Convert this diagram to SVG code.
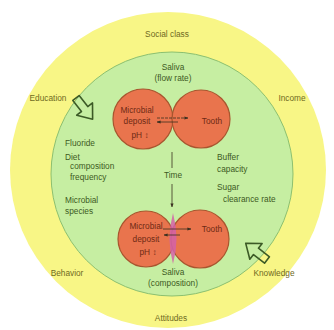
<svg xmlns="http://www.w3.org/2000/svg" width="334" height="330" viewBox="0 0 334 330">
<defs>
<style>
.t{font-family:"Liberation Sans",Arial,sans-serif;font-size:8.3px;text-anchor:middle}
.y{fill:#6f6a22}
.g{fill:#3d5a22}
.r{fill:#6e2a14}
.l{text-anchor:start}
.cell{fill:#E9744D;stroke:#A8552E;stroke-width:1.2}
.ln{stroke:#3a3020;stroke-width:0.8;fill:none}
.blk{fill:none;stroke:#3c5a26;stroke-width:1.6;stroke-linejoin:round}
</style>
<marker id="ah" viewBox="0 0 10 10" refX="9" refY="5" markerWidth="5" markerHeight="5" orient="auto">
<path d="M0,1 L10,5 L0,9 z" fill="#3a3020"/>
</marker>
<path id="blk" d="M0,-4 L14,-4 L14,-10 L27,0 L14,10 L14,4 L0,4 Z"/>
</defs>
<rect width="334" height="330" fill="#ffffff"/>
<g id="outer">
<circle cx="168" cy="170" r="158" fill="#F8F686"/>
<text class="t y" x="167" y="37">Social class</text>
<text class="t y" x="48" y="101">Education</text>
<text class="t y" x="292" y="101">Income</text>
<text class="t y" x="67" y="276">Behavior</text>
<text class="t y" x="274" y="276">Knowledge</text>
<text class="t y" x="171" y="321">Attitudes</text>
</g>
<g id="inner">
<ellipse cx="172" cy="174" rx="121" ry="122" fill="#C6EEA2" stroke="#8cc070" stroke-width="1"/>
<text class="t g" x="173" y="70">Saliva</text>
<text class="t g" x="173" y="81">(flow rate)</text>
<text class="t g l" x="65" y="146">Fluoride</text>
<text class="t g l" x="65" y="160">Diet</text>
<text class="t g l" x="70" y="169">composition</text>
<text class="t g l" x="70" y="180">frequency</text>
<text class="t g l" x="65" y="203">Microbial</text>
<text class="t g l" x="65" y="214">species</text>
<text class="t g l" x="217" y="160">Buffer</text>
<text class="t g l" x="217" y="172">capacity</text>
<text class="t g l" x="217" y="190">Sugar</text>
<text class="t g l" x="223" y="202">clearance rate</text>
<text class="t g" x="173" y="178">Time</text>
<text class="t g" x="173" y="275">Saliva</text>
<text class="t g" x="173" y="286">(composition)</text>
</g>
<g id="top-deposit">
<circle class="cell" cx="143" cy="119" r="30"/>
<text class="t r" x="137" y="113">Microbial</text>
<text class="t r" x="137" y="124">deposit</text>
<text class="t r" x="140" y="138">pH ↕</text>
</g>
<g id="top-tooth">
<circle class="cell" cx="201" cy="119" r="29"/>
<text class="t r" x="212" y="124">Tooth</text>
</g>
<g id="bottom-deposit">
<circle class="cell" cx="146" cy="239" r="28"/>
</g>
<g id="bottom-tooth">
<circle class="cell" cx="200" cy="239" r="29"/>
<path d="M173,213 Q180,239 173,264 Q166,239 173,213 Z" fill="#D462A8" opacity="0.85"/>
<text class="t r" x="146" y="229">Microbial</text>
<text class="t r" x="146" y="242">deposit</text>
<text class="t r" x="148" y="255">pH ↕</text>
<text class="t r" x="212" y="232">Tooth</text>
</g>
<g id="arrow-education"><use href="#blk" class="blk" transform="translate(76,98) rotate(52)"/></g>
<g id="arrow-knowledge"><use href="#blk" class="blk" transform="translate(267,260) rotate(-142)"/></g>
<g id="connectors">
<line class="ln" x1="157" y1="118" x2="188" y2="118" marker-end="url(#ah)" stroke-dasharray="3,1"/>
<line class="ln" x1="178" y1="122" x2="157" y2="122" marker-end="url(#ah)"/>
<line class="ln" x1="172" y1="152" x2="172" y2="168"/>
<line class="ln" x1="172" y1="184" x2="172" y2="207" marker-end="url(#ah)"/>
<line class="ln" x1="163" y1="229" x2="191" y2="229" marker-end="url(#ah)"/>
<line class="ln" x1="180" y1="235" x2="164" y2="235" marker-end="url(#ah)"/>
</g>
</svg>
